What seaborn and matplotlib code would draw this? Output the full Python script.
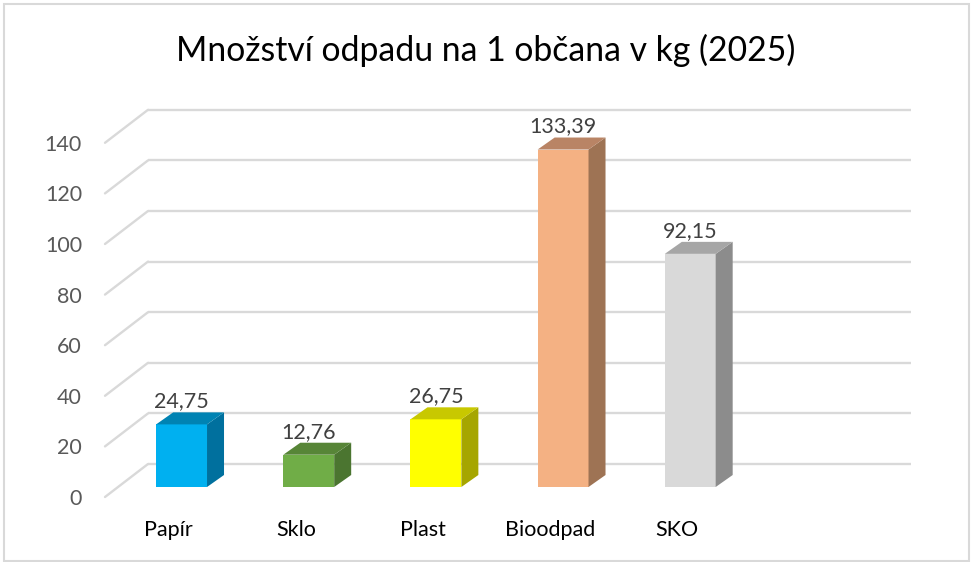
import matplotlib
matplotlib.use("Agg")
import matplotlib.pyplot as plt
import numpy as np
import pandas as pd
import seaborn as sns
from matplotlib.transforms import ScaledTranslation, IdentityTransform
from matplotlib.patches import Polygon, ConnectionPatch, Rectangle

# ---------------- data ----------------
categories = ["Papír", "Sklo", "Plast", "Bioodpad", "SKO"]
values = [24.75, 12.76, 26.75, 133.39, 92.15]
value_labels = ["24,75", "12,76", "26,75", "133,39", "92,15"]
y_ticks = [0, 20, 40, 60, 80, 100, 120, 140]
title = "Množství odpadu na 1 občana v kg (2025)"

# ---------------- style ----------------
front_colors = ["#00B0F0", "#70AD47", "#FFFF00", "#F4B183", "#D9D9D9"]
side_colors = ["#00709E", "#4B7530", "#A6A600", "#9E7354", "#8C8C8C"]
top_colors = ["#0083B3", "#578537", "#C8C800", "#B98465", "#A6A6A6"]
grid_color = "#D9D9D9"

sns.set_theme(style="white")
plt.rcParams["font.family"] = ["Lato", "DejaVu Sans"]

W, H = 971, 562
fig = plt.figure(figsize=(W / 100, H / 100), dpi=100)
ax = fig.add_axes([118 / W, (H - 487) / H, 763 / W, (487 - 132.8) / H])

df = pd.DataFrame({"cat": categories, "val": values})
sns.barplot(data=df, x="cat", y="val", hue="cat", palette=front_colors,
            saturation=1, width=0.4, legend=False, ax=ax, linewidth=0,
            zorder=3)
bars = [p for p in ax.patches if p.get_height() > 0]
ax.set_xlim(-0.5, 5.5)
ax.set_ylim(0, 140)
ax.axis("off")


def px(dx, dy):
    return ScaledTranslation(dx / 100, dy / 100, fig.dpi_scale_trans)


back = ax.transData + px(30, 23)
front = ax.transData + px(-13, -10)

# gridlines: back wall + floor diagonals
for v in y_ticks:
    ax.plot([-0.5, 5.5], [v, v], transform=back, color=grid_color, lw=1.7,
            zorder=1, clip_on=False, solid_capstyle="butt")
    cp = ConnectionPatch((-0.5, v), (-0.5, v), coordsA=back, coordsB=front,
                         color=grid_color, lw=1.7, zorder=1)
    ax.add_artist(cp)
    ax.text(-0.5, v, str(v), transform=front + px(-23, -2), ha="right",
            va="center", color="#595959", fontsize=15.5)

# 3D faces of the bars
DX, DY = 17, 12
for p, sc, tc in zip(bars, side_colors, top_colors):
    x0, w, h = p.get_x(), p.get_width(), p.get_height()
    a = ax.transData.transform((x0 + w, 0))
    b = ax.transData.transform((x0 + w, h))
    c = ax.transData.transform((x0, h))
    off = np.array([DX, DY])
    side = Polygon([a, b, b + off, a + off], closed=True, facecolor=sc,
                   edgecolor="none", transform=IdentityTransform(), zorder=3,
                   clip_on=False)
    top = Polygon([c, b, b + off, c + off], closed=True, facecolor=tc,
                  edgecolor="none", transform=IdentityTransform(), zorder=3,
                  clip_on=False)
    ax.add_patch(side)
    ax.add_patch(top)

for p, lab in zip(bars, value_labels):
    xc = p.get_x() + p.get_width() / 2
    ax.text(xc, p.get_height(), lab, transform=ax.transData + px(0, 17),
            ha="center", va="baseline", color="#404040", fontsize=15.5)

for i, cat in enumerate(categories):
    ax.text(i, 0, cat, transform=front + px(0, -39), ha="center",
            va="baseline", color="black", fontsize=15.5)

fig.text(486 / W, (H - 60.7) / H, title, ha="center", va="baseline",
         color="black", fontsize=24.3)

fig.patches.append(Rectangle((4 / W, 1 / H), (969 - 4) / W, (H - 5) / H,
                             transform=fig.transFigure, fill=False,
                             edgecolor="#D9D9D9", lw=1.5))

fig.savefig("out.png", dpi=100)
